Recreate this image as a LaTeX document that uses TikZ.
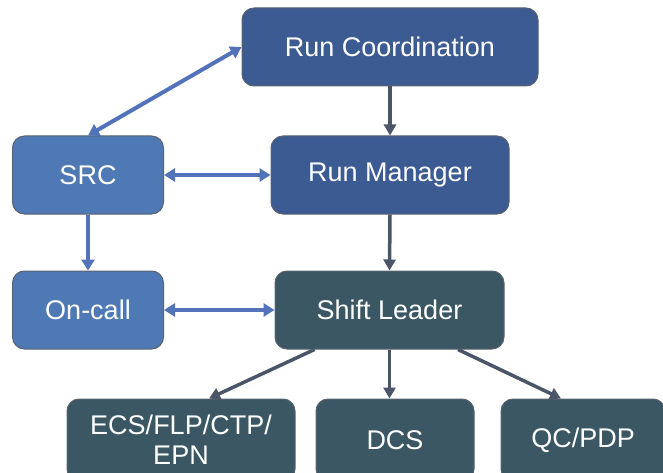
\documentclass[tikz,border=0pt]{standalone}
\usepackage{fontspec}
\setmainfont{Liberation Sans}
\usetikzlibrary{arrows.meta,calc}
\definecolor{darkblue}{HTML}{3B5B92}
\definecolor{lightblue}{HTML}{4F79B4}
\definecolor{slate}{HTML}{3A5763}
\definecolor{boxborder}{HTML}{5A6270}
\definecolor{bluearrow}{HTML}{5272BA}
\definecolor{darkarrow}{HTML}{4A5568}
\tikzset{
  box/.style={rectangle, rounded corners=12pt, draw=boxborder, line width=1pt,
    text=white, font=\fontsize{27}{30}\selectfont, align=center, inner sep=0pt},
  bluebox/.style={box, fill=darkblue},
  lbluebox/.style={box, fill=lightblue},
  slatebox/.style={box, fill=slate},
  barrow/.style={draw=bluearrow, line width=4pt, {Triangle[length=11pt,width=13pt]}-{Triangle[length=11pt,width=13pt]}},
  barrowone/.style={draw=bluearrow, line width=4pt, -{Triangle[length=11pt,width=13pt]}},
  darrow/.style={draw=darkarrow, line width=3.5pt, -{Triangle[length=11pt,width=12pt]}}
}
\begin{document}
\begin{tikzpicture}[x=1pt,y=-1pt]
\useasboundingbox (0,0) rectangle (663,473);
\clip (0,0) rectangle (663,473);
\node[bluebox, minimum width=296pt, minimum height=78pt] (RC) at (390,47) {Run Coordination};
\node[bluebox, minimum width=238pt, minimum height=78pt] (RM) at (390,175) {Run Manager};
\node[lbluebox, minimum width=151pt, minimum height=78pt] (SRC) at (88,175) {SRC};
\node[lbluebox, minimum width=151pt, minimum height=78pt] (OC) at (88,310) {On-call};
\node[slatebox, minimum width=229pt, minimum height=78pt] (SL) at (389.5,310) {Shift Leader};
\node[slatebox, minimum width=228pt, minimum height=82pt] (ECS) at (181,440) {ECS/FLP/CTP/\\EPN};
\node[slatebox, minimum width=158pt, minimum height=82pt] (DCS) at (395,440) {DCS};
\node[slatebox, minimum width=164pt, minimum height=82pt] (QC) at (583,440) {QC/PDP};

\draw[barrow] (RC.west) -- (SRC.north);
\draw[barrow] (SRC.east) -- (RM.west);
\draw[barrowone] (SRC.south) -- (OC.north);
\draw[barrow] (OC.east) -- (SL.west);
\draw[darrow] (RC.south) -- (RM.north);
\draw[darrow] (RM.south) -- (SL.north);
\draw[darrow] ($(SL.south)+(-75,0)$) -- ($(ECS.north)+(28,0)$);
\draw[darrow] (SL.south) -- (SL.south |- DCS.north);
\draw[darrow] ($(SL.south)+(68.5,0)$) -- ($(QC.north)+(-22,0)$);
\end{tikzpicture}
\end{document}
